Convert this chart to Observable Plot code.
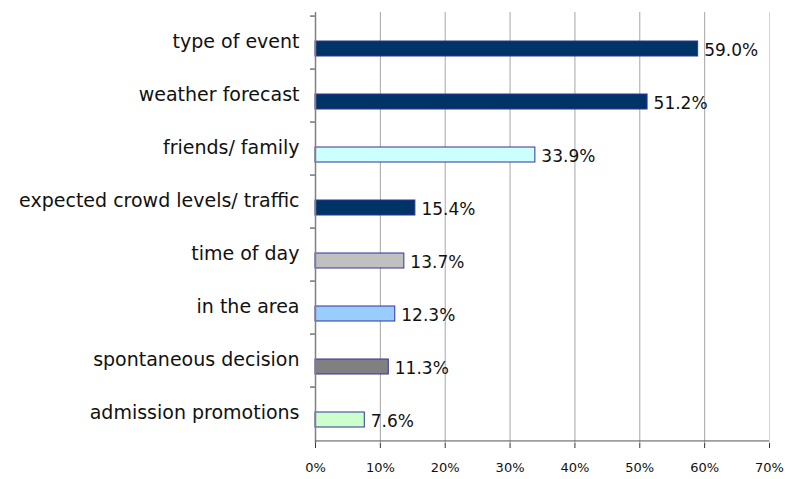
<!DOCTYPE html>
<html>
<head>
<meta charset="utf-8">
<script src="https://cdn.jsdelivr.net/npm/d3@7"></script>
<script src="https://cdn.jsdelivr.net/npm/@observablehq/plot@0.6"></script>
<style>
  html, body { margin: 0; padding: 0; background: #fff; }
</style>
</head>
<body>
<div id="chart"></div>
<script>
const categories = ["type of event", "weather forecast", "friends/ family", "expected crowd levels/ traffic", "time of day", "in the area", "spontaneous decision", "admission promotions"];
const values = [59.0, 51.2, 33.9, 15.4, 13.7, 12.3, 11.3, 7.6];
const barColors = ["#003366", "#003366", "#ccffff", "#003366", "#c0c0c0", "#99ccff", "#808080", "#ccffcc"];
const xTicks = [0, 10, 20, 30, 40, 50, 60, 70];
const gridTicks = [10, 20, 30, 40, 50, 60, 70];

const data = categories.map((c, i) => ({cat: c, value: values[i], color: barColors[i]}));

const width = 785, height = 479;
const marginTop = 12, marginBottom = 36, marginLeft = 315, marginRight = 16;
const band = (height - marginTop - marginBottom) / categories.length;
const font = "DejaVu Sans, sans-serif";

const chart = Plot.plot({
  width, height, marginTop, marginBottom, marginLeft, marginRight,
  style: {fontFamily: font, background: "#fff", color: "#000"},
  x: {domain: [0, 70], axis: null, label: null},
  y: {domain: categories, padding: 0, axis: null, label: null},
  color: {type: "identity"},
  marks: [
    Plot.ruleX(gridTicks, {x: d => d, stroke: d => d === 70 ? "#d4d4d4" : "#a6a6a6", strokeWidth: 1}),
    Plot.barX(data, {y: "cat", x: "value", fill: "color", stroke: "#333399", strokeWidth: 1, insetTop: 25, insetBottom: 13}),
    Plot.text(data, {y: "cat", x: "value", text: d => d.value.toFixed(1) + "%", textAnchor: "start", dx: 6, dy: 8, fontSize: 17, fill: "#111"}),
    Plot.axisY({tickSize: 0, tickPadding: 16, fontSize: 19, dy: -1, fill: "#111", textAnchor: "end", label: null}),
    Plot.axisY({tickSize: 5, text: null, dy: -band / 2, stroke: "#333", label: null}),
    Plot.ruleX([0], {stroke: "#808080", strokeWidth: 1.5}),
    Plot.axisX({ticks: xTicks, tickFormat: d => d + "%", tickSize: 5, tickPadding: 14, fontSize: 13, fill: "#111", stroke: "#333", label: null}),
    Plot.ruleY([0], {y: () => categories[categories.length - 1], dy: band / 2, x1: 0, x2: 70, stroke: "#555", strokeWidth: 1})
  ]
});
document.getElementById("chart").appendChild(chart);
</script>
</body>
</html>
